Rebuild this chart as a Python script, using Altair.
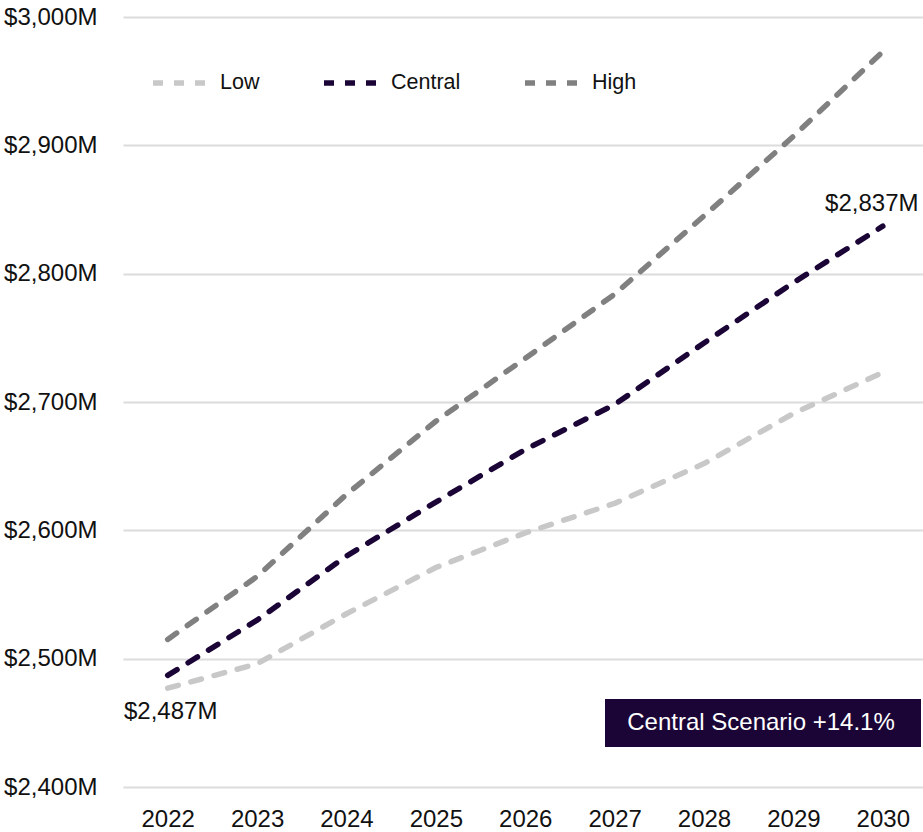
import altair as alt
import pandas as pd

years = [2022, 2023, 2024, 2025, 2026, 2027, 2028, 2029, 2030]
low = [2477, 2496, 2535, 2571, 2598, 2621, 2652, 2691, 2723]
central = [2487, 2530, 2580, 2622, 2663, 2698, 2746, 2793, 2837]
high = [2515, 2564, 2628, 2685, 2734, 2784, 2845, 2907, 2973]
scenarios = ["Low", "Central", "High"]
colors = ["#c8c8c8", "#1a0536", "#808080"]
y_ticks = [2400, 2500, 2600, 2700, 2800, 2900, 3000]
badge_text = "Central Scenario +14.1%"

FONT = "Liberation Sans"

rows = []
for name, vals in zip(scenarios, [low, central, high]):
    for yr, v in zip(years, vals):
        rows.append({"year": yr, "scenario": name, "value": v, "order": scenarios.index(name)})
df = pd.DataFrame(rows)

x_scale = alt.Scale(domain=[2021.5, 2030.45], nice=False, zero=False)
y_scale = alt.Scale(domain=[2400, 3000], nice=False, zero=False)

x_axis = alt.Axis(values=years, format="d", title=None, grid=False, ticks=False,
                  domain=False, labelFontSize=24, labelFont=FONT, labelColor="#111111",
                  labelPadding=20)
y_axis = alt.Axis(values=y_ticks, title=None, ticks=False, domain=False,
                  labelExpr="'$' + format(datum.value, ',') + 'M'",
                  labelFontSize=24, labelFont=FONT, labelColor="#111111",
                  labelPadding=26, gridColor="#dcdcdc", gridWidth=2)

lines = alt.Chart(df).mark_line(
    strokeWidth=5.5, strokeDash=[11, 13], strokeCap="round", strokeJoin="round",
    interpolate="linear"
).encode(
    x=alt.X("year:Q", scale=x_scale, axis=x_axis),
    y=alt.Y("value:Q", scale=y_scale, axis=y_axis),
    color=alt.Color("scenario:N", scale=alt.Scale(domain=scenarios, range=colors),
                    legend=alt.Legend(
                        title=None, orient="none", direction="horizontal",
                        legendX=27, legendY=37, symbolType="stroke",
                        symbolSize=2704, symbolStrokeWidth=5.5, symbolDash=[10, 11],
                        labelFontSize=21.5, labelFont=FONT, labelColor="#111111",
                        labelOffset=12, columnPadding=53, padding=0)),
    order="order:Q",
)

central_df = pd.DataFrame({"year": years, "value": central})
first_df = central_df.iloc[[0]].assign(label=lambda d: d["value"].map(lambda v: f"${v:,}M"))
last_df = central_df.iloc[[-1]].assign(label=lambda d: d["value"].map(lambda v: f"${v:,}M"))

lbl_first = alt.Chart(first_df).mark_text(
    fontSize=24, font=FONT, color="#111111", align="center", baseline="middle", dx=3, dy=37
).encode(x=alt.X("year:Q", scale=x_scale, axis=x_axis),
         y=alt.Y("value:Q", scale=y_scale, axis=y_axis), text="label:N")

lbl_last = alt.Chart(last_df).mark_text(
    fontSize=24, font=FONT, color="#111111", align="center", baseline="middle", dx=-11, dy=-22
).encode(x=alt.X("year:Q", scale=x_scale, axis=x_axis),
         y=alt.Y("value:Q", scale=y_scale, axis=y_axis), text="label:N")

badge_df = pd.DataFrame({"label": [badge_text]})
badge_rect = alt.Chart(badge_df).mark_rect(color="#1a0536").encode(
    x=alt.value(482), x2=alt.value(798), y=alt.value(682), y2=alt.value(730)
)
badge_txt = alt.Chart(badge_df).mark_text(
    fontSize=24, font=FONT, color="#ffffff", align="center", baseline="middle"
).encode(x=alt.value(638), y=alt.value(706), text="label:N")

chart = alt.layer(lines, lbl_first, lbl_last, badge_rect, badge_txt).properties(
    width=800, height=770,
    background="white",
    autosize=alt.AutoSizeParams(type="none"),
    padding={"left": 123, "top": 17, "right": 0, "bottom": 45},
).configure_view(strokeWidth=0, stroke="transparent"
).configure_axisX(grid=False, domain=False, ticks=False
).configure_axisY(domain=False, ticks=False)

chart.save("out.html", embed_options={"renderer": "svg", "actions": False})
